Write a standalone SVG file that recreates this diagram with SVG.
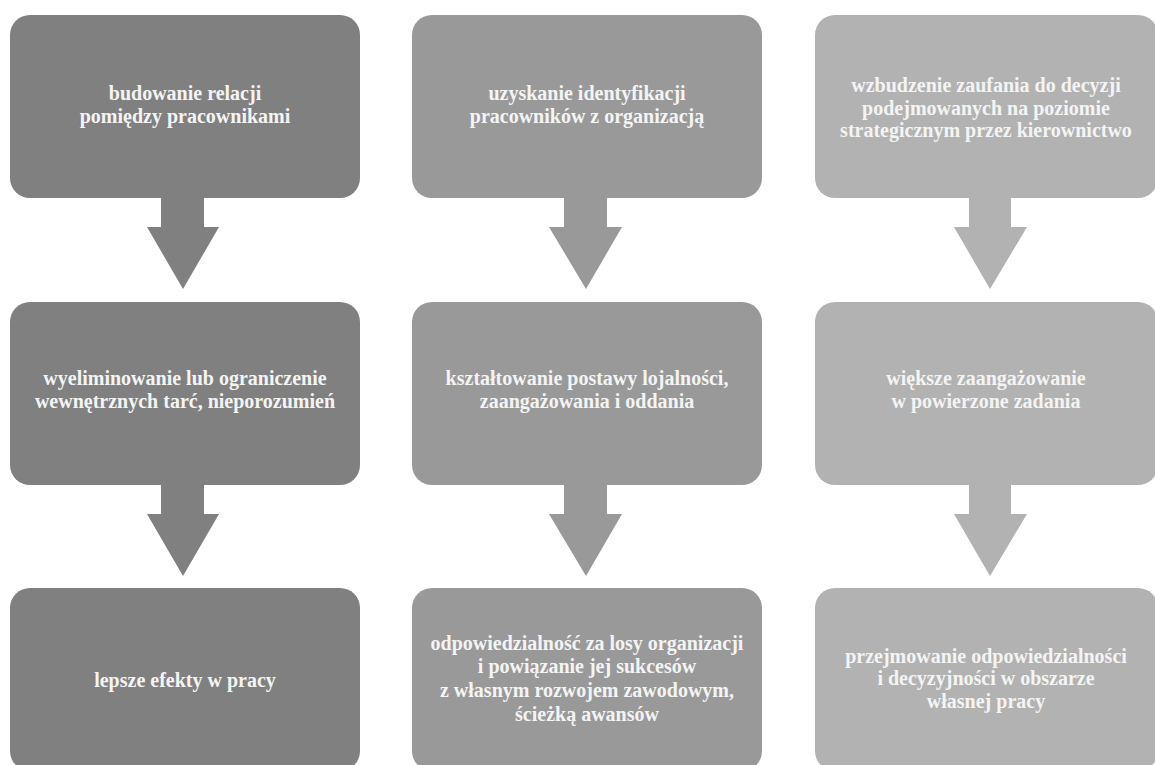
<svg xmlns="http://www.w3.org/2000/svg" width="1155" height="765" viewBox="0 0 1155 765">
  <style>
    .box { stroke: none; }
    .c1 { fill: #808080; }
    .c2 { fill: #999999; }
    .c3 { fill: #b2b2b2; }
    .lbl { font-family: "Liberation Serif", "Times New Roman", serif; font-weight: bold; font-size: 20px; fill: #f4f4f4; text-anchor: middle; }
  </style>
  <rect x="0" y="0" width="1155" height="765" fill="#ffffff"/>

  <!-- arrows between levels -->
  <g id="connectors">
    <polygon class="c1" points="161,196 204,196 204,227 219,227 183,289 147,227 161,227"/>
    <polygon class="c1" points="161,483 204,483 204,514 219,514 183,576 147,514 161,514"/>
    <polygon class="c2" points="564,196 607,196 607,227 622,227 586,289 549,227 564,227"/>
    <polygon class="c2" points="564,483 607,483 607,514 622,514 586,576 549,514 564,514"/>
    <polygon class="c3" points="969,196 1011,196 1011,227 1027,227 990,289 954,227 969,227"/>
    <polygon class="c3" points="969,483 1011,483 1011,514 1027,514 990,576 954,514 969,514"/>
  </g>

  <!-- column 1 -->
  <g id="n1">
    <rect class="box c1" x="10" y="15" width="350" height="183" rx="20"/>
    <text class="lbl" x="185" y="100">budowanie relacji</text>
    <text class="lbl" x="185" y="123">pomiędzy pracownikami</text>
  </g>
  <g id="n2">
    <rect class="box c1" x="10" y="302" width="350" height="183" rx="20"/>
    <text class="lbl" x="185" y="385">wyeliminowanie lub ograniczenie</text>
    <text class="lbl" x="185" y="408">wewnętrznych tarć, nieporozumień</text>
  </g>
  <g id="n3">
    <rect class="box c1" x="10" y="588" width="350" height="183" rx="20"/>
    <text class="lbl" x="185" y="687">lepsze efekty w pracy</text>
  </g>

  <!-- column 2 -->
  <g id="n4">
    <rect class="box c2" x="412" y="15" width="350" height="183" rx="20"/>
    <text class="lbl" x="587" y="100">uzyskanie identyfikacji</text>
    <text class="lbl" x="587" y="123">pracowników z organizacją</text>
  </g>
  <g id="n5">
    <rect class="box c2" x="412" y="302" width="350" height="183" rx="20"/>
    <text class="lbl" x="587" y="385">kształtowanie postawy lojalności,</text>
    <text class="lbl" x="587" y="408">zaangażowania i oddania</text>
  </g>
  <g id="n6">
    <rect class="box c2" x="412" y="588" width="350" height="183" rx="20"/>
    <text class="lbl" x="587" y="650">odpowiedzialność za losy organizacji</text>
    <text class="lbl" x="587" y="673">i powiązanie jej sukcesów</text>
    <text class="lbl" x="587" y="697">z własnym rozwojem zawodowym,</text>
    <text class="lbl" x="587" y="721">ścieżką awansów</text>
  </g>

  <!-- column 3 -->
  <g id="n7">
    <rect class="box c3" x="815" y="15" width="343" height="183" rx="20"/>
    <text class="lbl" x="986" y="92">wzbudzenie zaufania do decyzji</text>
    <text class="lbl" x="986" y="115">podejmowanych na poziomie</text>
    <text class="lbl" x="986" y="137">strategicznym przez kierownictwo</text>
  </g>
  <g id="n8">
    <rect class="box c3" x="815" y="302" width="343" height="183" rx="20"/>
    <text class="lbl" x="986" y="385">większe zaangażowanie</text>
    <text class="lbl" x="986" y="408">w powierzone zadania</text>
  </g>
  <g id="n9">
    <rect class="box c3" x="815" y="588" width="343" height="183" rx="20"/>
    <text class="lbl" x="986" y="663">przejmowanie odpowiedzialności</text>
    <text class="lbl" x="986" y="685">i decyzyjności w obszarze</text>
    <text class="lbl" x="986" y="708">własnej pracy</text>
  </g>
</svg>
